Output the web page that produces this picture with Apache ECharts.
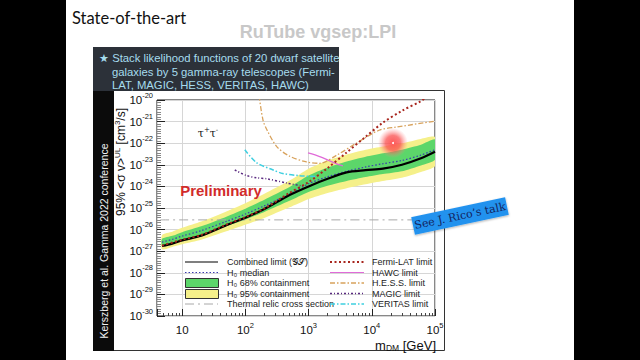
<!DOCTYPE html>
<html><head><meta charset="utf-8">
<script src="https://cdn.jsdelivr.net/npm/echarts@6/dist/echarts.min.js"></script>
<style>html,body{margin:0;padding:0;background:#000;}#c{width:640px;height:360px;}</style>
</head><body><div id="c"></div>
<script>
// ---- data (x: m_DM in GeV, y: log10 of <sigma v> in cm^3/s) ----
const massGrid = [4.8, 7, 10, 20, 50, 100, 200, 500, 1000, 2000, 4000, 8000, 15000, 30000, 60000, 100000];
const combinedLog10 = [-26.76, -26.65, -26.5, -26.28, -25.8, -25.45, -25.05, -24.4, -24.0, -23.65, -23.35, -23.25, -23.18, -23.0, -22.7, -22.4];
const medianLog10   = [-26.58, -26.45, -26.3, -26.05, -25.62, -25.28, -24.9, -24.35, -23.88, -23.55, -23.3, -23.1, -22.95, -22.8, -22.55, -22.3];
const green68Low    = [-26.73, -26.61, -26.48, -26.25, -25.84, -25.53, -25.18, -24.67, -24.26, -23.97, -23.75, -23.57, -23.43, -23.3, -23.03, -22.77];
const green68High   = [-26.43, -26.29, -26.12, -25.85, -25.4, -25.03, -24.62, -24.03, -23.5, -23.13, -22.85, -22.63, -22.47, -22.3, -22.07, -21.83];
const yellow95Low   = [-26.91, -26.8, -26.68, -26.47, -26.08, -25.78, -25.46, -24.97, -24.58, -24.3, -24.08, -23.9, -23.75, -23.6, -23.33, -23.05];
const yellow95High  = [-26.25, -26.1, -25.92, -25.63, -25.16, -24.78, -24.34, -23.73, -23.18, -22.8, -22.52, -22.3, -22.15, -22.0, -21.8, -21.72];

const fermiMass  = [4.8, 10, 20, 50, 100, 200, 500, 1000, 2000, 4000, 8000, 15000, 30000, 60000, 70000];
const fermiLog10 = [-26.74, -26.47, -26.25, -25.77, -25.42, -25.02, -24.3, -23.8, -23.15, -22.43, -21.7, -21.05, -20.5, -20.05, -19.9];

const hessMass  = [165, 190, 220, 316, 500, 930, 1500, 2800, 5700, 13000, 25000, 100000];
const hessLog10 = [-19.8, -20.93, -21.39, -22.17, -22.6, -22.87, -22.93, -22.55, -22.0, -21.4, -21.25, -20.98];

const hawcMass  = [980, 1500, 2600, 3500];
const hawcLog10 = [-22.45, -22.62, -22.92, -23.05];

const magicMass  = [68, 105, 150, 220, 460, 800];
const magicLog10 = [-23.24, -23.5, -23.6, -23.65, -23.85, -23.98];

const veritasMass  = [98, 150, 275, 390, 700, 1350];
const veritasLog10 = [-22.3, -22.9, -23.24, -23.4, -23.5, -23.55];

const thermalMass  = [4.5, 100000];
const thermalLog10 = [-25.55, -25.55];

const xTickExponents = [1, 2, 3, 4, 5];
const yTickExponents = [-30, -29, -28, -27, -26, -25, -24, -23, -22, -21, -20];

// ---- helpers ----
const pts = (ms, ls) => ms.map((m, i) => [m, ls[i]]);
function band(name, lo, hi, color) {
  const data = massGrid.map((m, i) => [m, lo[i], hi[i]]);
  return {
    type: 'custom', name, data, clip: true, z: 2,
    encode: { x: 0, y: [1, 2] },
    renderItem: (params, api) => {
      if (params.dataIndex !== 0) return null;
      const p = [];
      for (const d of data) p.push(api.coord([d[0], d[2]]));
      for (let i = data.length - 1; i >= 0; i--) p.push(api.coord([data[i][0], data[i][1]]));
      return { type: 'polygon', shape: { points: p, smooth: 0.2 }, style: { fill: color } };
    }
  };
}
function line(name, data, color, width, type, z) {
  return { type: 'line', name, data, showSymbol: false, symbol: 'none', smooth: 0.3, clip: true, z: z || 3,
    lineStyle: { color, width, type }, silent: true };
}

const supRich = {
  b: { fontSize: 11.5, fontFamily: 'Liberation Sans', color: '#111', lineHeight: 18 },
  s: { fontSize: 7.5, fontFamily: 'Liberation Sans', color: '#111', verticalAlign: 'top', lineHeight: 9 }
};
const LF = '9px "Liberation Sans"';

const graphics = [
    { type: 'rect', shape: { x: 0, y: 0, width: 66, height: 360 }, style: { fill: '#000' } },
    { type: 'rect', shape: { x: 574, y: 0, width: 66, height: 360 }, style: { fill: '#000' } },
    { type: 'text', x: 72, y: 18, style: { text: 'State-of-the-art', font: '16.5px Lato', fill: '#111', verticalAlign: 'middle' } },
    { type: 'text', x: 318, y: 32, style: { text: 'RuTube vgsep:LPI', font: 'bold 18px "Liberation Sans"', fill: '#c8c8c8', align: 'center', verticalAlign: 'middle' } },
    { type: 'rect', shape: { x: 93.5, y: 90.5, width: 351, height: 260 }, style: { fill: 'none', stroke: '#333', lineWidth: 1 } },
    { type: 'rect', shape: { x: 93, y: 90, width: 21, height: 261 }, style: { fill: '#0b0b0b' } },
    { type: 'text', x: 104, y: 241, rotation: Math.PI / 2, style: { text: 'Kerszberg et al. Gamma 2022 conference', font: '10.5px "Liberation Sans"', fill: '#f2f2f2', align: 'center', verticalAlign: 'middle' } },
    { type: 'rect', shape: { x: 93, y: 47, width: 246, height: 44 }, style: { fill: '#2c3139' } },
    { type: 'text', x: 99, y: 58, style: { text: '★ Stack likelihood functions of 20 dwarf satellite', font: '11.3px "Liberation Sans"', fill: '#a6dcee', verticalAlign: 'middle' } },
    { type: 'text', x: 112, y: 72, style: { text: 'galaxies by 5 gamma-ray telescopes (Fermi-', font: '11.3px "Liberation Sans"', fill: '#a6dcee', verticalAlign: 'middle' } },
    { type: 'text', x: 112, y: 85, style: { text: 'LAT, MAGIC, HESS, VERITAS, HAWC)', font: '11.3px "Liberation Sans"', fill: '#a6dcee', verticalAlign: 'middle' } },
    { type: 'text', x: 121, y: 162, rotation: Math.PI / 2, style: {
        text: '{n|95% <σ v>}{s|UL}{n| [cm}{s|3}{n|/s]}', align: 'center', verticalAlign: 'middle',
        rich: { n: { fontSize: 12, fontFamily: 'Liberation Sans', fill: '#111', lineHeight: 16 }, s: { fontSize: 8, fontFamily: 'Liberation Sans', fill: '#111', verticalAlign: 'top', lineHeight: 9 } } } },
    { type: 'text', x: 436, y: 345, style: {
        text: '{n|m}{d|DM}{n| [GeV]}', align: 'right', verticalAlign: 'middle',
        rich: { n: { fontSize: 13, fontFamily: 'Liberation Sans', fill: '#111', lineHeight: 15 }, d: { fontSize: 8.5, fontFamily: 'Liberation Sans', fill: '#111', verticalAlign: 'bottom', lineHeight: 10 } } } },
    { type: 'text', x: 208, y: 133, style: {
        text: '{n|τ}{s|+}{n|τ}{s|-}', align: 'center', verticalAlign: 'middle',
        rich: { n: { fontSize: 11, fontFamily: 'DejaVu Serif', fill: '#111', lineHeight: 14 }, s: { fontSize: 7, fontFamily: 'DejaVu Serif', fill: '#111', verticalAlign: 'top', lineHeight: 8 } } } },
    { type: 'text', x: 221, y: 190, style: { text: 'Preliminary', font: 'bold 15px "Liberation Sans"', fill: '#d12b2b', align: 'center', verticalAlign: 'middle' } },
    // legend, left column
    { type: 'line', shape: { x1: 185, y1: 262, x2: 218, y2: 262 }, style: { stroke: '#555', lineWidth: 1.5 } },
    { type: 'line', shape: { x1: 185, y1: 272.5, x2: 218, y2: 272.5 }, style: { stroke: '#3a3ab0', lineWidth: 1.2, lineDash: [1.5, 2] } },
    { type: 'rect', shape: { x: 185.5, y: 278.5, width: 33, height: 9 }, style: { fill: '#5cd66a', stroke: '#333', lineWidth: 1 } },
    { type: 'rect', shape: { x: 185.5, y: 289.5, width: 33, height: 9 }, style: { fill: '#f5f08a', stroke: '#333', lineWidth: 1 } },
    { type: 'line', shape: { x1: 185, y1: 304, x2: 218, y2: 304 }, style: { stroke: '#a8a8a8', lineWidth: 1, lineDash: [9, 4, 2, 4] } },
    { type: 'text', x: 227, y: 262, style: { text: 'Combined limit (𝒢𝒮)', font: LF, fill: '#222', verticalAlign: 'middle' } },
    { type: 'text', x: 227, y: 272.5, style: { text: 'H₀ median', font: LF, fill: '#222', verticalAlign: 'middle' } },
    { type: 'text', x: 227, y: 283, style: { text: 'H₀ 68% containment', font: LF, fill: '#222', verticalAlign: 'middle' } },
    { type: 'text', x: 227, y: 293.5, style: { text: 'H₀ 95% containment', font: LF, fill: '#222', verticalAlign: 'middle' } },
    { type: 'text', x: 227, y: 304, style: { text: 'Thermal relic cross section', font: LF, fill: '#222', verticalAlign: 'middle' } },
    // legend, right column
    { type: 'line', shape: { x1: 330, y1: 262, x2: 364, y2: 262 }, style: { stroke: '#a8261e', lineWidth: 1.8, lineDash: [2, 2.5] } },
    { type: 'line', shape: { x1: 330, y1: 272.5, x2: 364, y2: 272.5 }, style: { stroke: '#e06ad8', lineWidth: 1.2 } },
    { type: 'line', shape: { x1: 330, y1: 283, x2: 364, y2: 283 }, style: { stroke: '#d8a25c', lineWidth: 1.3, lineDash: [5, 2, 1.5, 2] } },
    { type: 'line', shape: { x1: 330, y1: 293.5, x2: 364, y2: 293.5 }, style: { stroke: '#5a2a80', lineWidth: 1.5, lineDash: [2, 2, 1, 2] } },
    { type: 'line', shape: { x1: 330, y1: 304, x2: 364, y2: 304 }, style: { stroke: '#3fcfe0', lineWidth: 1.5, lineDash: [5, 2, 1.5, 2] } },
    { type: 'text', x: 372, y: 262, style: { text: 'Fermi-LAT limit', font: LF, fill: '#222', verticalAlign: 'middle' } },
    { type: 'text', x: 372, y: 272.5, style: { text: 'HAWC limit', font: LF, fill: '#222', verticalAlign: 'middle' } },
    { type: 'text', x: 372, y: 283, style: { text: 'H.E.S.S. limit', font: LF, fill: '#222', verticalAlign: 'middle' } },
    { type: 'text', x: 372, y: 293.5, style: { text: 'MAGIC limit', font: LF, fill: '#222', verticalAlign: 'middle' } },
    { type: 'text', x: 372, y: 304, style: { text: 'VERITAS limit', font: LF, fill: '#222', verticalAlign: 'middle' } },
    // laser pointer glow
    { type: 'circle', shape: { cx: 393, cy: 143, r: 15 }, style: { fill: { type: 'radial', x: 0.5, y: 0.5, r: 0.5, colorStops: [
        { offset: 0, color: 'rgba(255,80,80,0.95)' }, { offset: 0.5, color: 'rgba(250,80,80,0.75)' }, { offset: 1, color: 'rgba(255,140,140,0)' }] } } },
    { type: 'circle', shape: { cx: 393, cy: 143, r: 1 }, style: { fill: '#fff' } },
    // "See J. Rico's talk" tag
    { type: 'group', x: 460, y: 216, rotation: 0.21, children: [
        { type: 'rect', z: 60, shape: { x: -48, y: -9, width: 96, height: 18 }, style: { fill: '#2192ee', shadowBlur: 2, shadowColor: 'rgba(0,0,0,0.3)', shadowOffsetY: 1 } },
        { type: 'text', z: 61, x: 0, y: 0, style: { text: 'See J. Rico\u2019s talk', font: '11px "DejaVu Serif"', fill: '#14245e', align: 'center', verticalAlign: 'middle' } }
    ] }
];
graphics.forEach(g => { if (g.z === undefined) g.z = 50; });

const chart = echarts.init(document.getElementById('c'), null, { renderer: 'svg' });
chart.setOption({
  backgroundColor: '#fff',
  animation: false,
  grid: { left: 157, top: 100, right: 205, bottom: 44, show: true, borderColor: '#111', borderWidth: 1, backgroundColor: 'transparent' },
  xAxis: {
    type: 'log', logBase: 10, min: 4, max: 100000, splitNumber: 5,
    axisLine: { show: false },
    axisTick: { inside: true, length: 7, lineStyle: { color: '#222' } },
    minorTick: { show: true, splitNumber: 9, length: 3, lineStyle: { color: '#444' } },
    splitLine: { show: true, lineStyle: { color: '#d6d6d6', width: 1 } },
    axisLabel: {
      margin: 5, showMinLabel: false, showMaxLabel: true, hideOverlap: false, rich: supRich,
      formatter: v => { const e = Math.round(Math.log10(v)); return (Math.abs(Math.log10(v) - e) < 1e-6 && xTickExponents.includes(e)) ? (e === 1 ? '{b|10}' : '{b|10}{s|' + e + '}') : ''; }
    }
  },
  yAxis: {
    type: 'value', min: -30, max: -20, interval: 1,
    axisLine: { show: false },
    axisTick: { inside: true, length: 8, lineStyle: { color: '#222' } },
    minorTick: { show: true, splitNumber: 9, length: 4, lineStyle: { color: '#888' } },
    splitLine: { show: true, lineStyle: { color: '#d6d6d6', width: 1 } },
    axisLabel: {
      margin: 4, showMinLabel: true, showMaxLabel: true, hideOverlap: false, rich: supRich,
      formatter: v => yTickExponents.includes(Math.round(v)) ? '{b|10}{s|' + Math.round(v) + '}' : ''
    }
  },
  series: [
    band('H0 95% containment', yellow95Low, yellow95High, '#f5f08a'),
    band('H0 68% containment', green68Low, green68High, '#5cd66a'),
    line('Thermal relic cross section', pts(thermalMass, thermalLog10), '#a8a8a8', 1, [9, 4, 2, 4]),
    line('H0 median', pts(massGrid, medianLog10), '#3a3ab0', 1.2, [1.5, 2]),
    line('MAGIC limit', pts(magicMass, magicLog10), '#5a2a80', 1.5, [2, 2, 1, 2]),
    line('VERITAS limit', pts(veritasMass, veritasLog10), '#3fcfe0', 1.5, [5, 2, 1.5, 2]),
    line('HAWC limit', pts(hawcMass, hawcLog10), '#e06ad8', 1.2, 'solid'),
    line('H.E.S.S. limit', pts(hessMass, hessLog10), '#d8a25c', 1.3, [5, 2, 1.5, 2]),
    line('Combined limit', pts(massGrid, combinedLog10), '#000', 2.2, 'solid', 4),
    line('Fermi-LAT limit', pts(fermiMass, fermiLog10), '#a8261e', 2, [2, 2.5], 5)
  ],
  graphic: graphics
});
</script></body></html>
